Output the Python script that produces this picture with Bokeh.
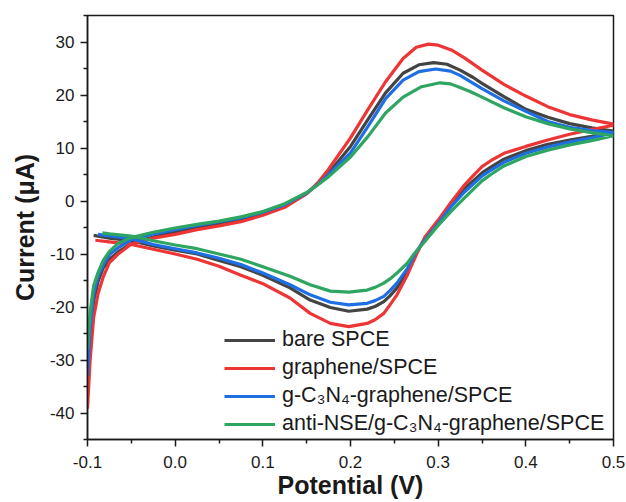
from bokeh.plotting import figure
from bokeh.models import Legend, LegendItem, FixedTicker, PrintfTickFormatter, Range1d
from bokeh.embed import file_html
from bokeh.resources import INLINE

# ---- data ----
bare_fwd_x = [-0.1, -0.097, -0.093, -0.088, -0.082, -0.075, -0.065, -0.05, -0.025, 0, 0.025, 0.05, 0.075, 0.1, 0.125, 0.15, 0.1625, 0.175, 0.2, 0.22, 0.24, 0.26, 0.278, 0.295, 0.31, 0.325, 0.34, 0.35, 0.375, 0.4, 0.425, 0.45, 0.475, 0.5]
bare_fwd_y = [-35, -26, -19, -15.2, -12.6, -11.0, -9.6, -8.0, -6.8, -5.8, -5.0, -4.3, -3.5, -2.4, -1.0, 1.4, 3.2, 5.3, 10.3, 15.4, 20.4, 24.1, 25.7, 26.1, 25.8, 24.7, 23.3, 22.2, 19.7, 17.3, 15.8, 14.6, 13.8, 13.2]
bare_rev_x = [0.5, 0.475, 0.45, 0.425, 0.4, 0.375, 0.36, 0.35, 0.34, 0.33, 0.315, 0.3, 0.285, 0.275, 0.265, 0.253, 0.245, 0.238, 0.228, 0.219, 0.198, 0.177, 0.154, 0.131, 0.1, 0.075, 0.05, 0.025, 0, -0.025, -0.05, -0.075, -0.093]
bare_rev_y = [13.0, 12.2, 11.5, 10.7, 9.5, 7.9, 6.4, 5.3, 3.8, 2.3, -0.6, -4.0, -7.0, -9.8, -13.3, -16.4, -17.9, -19.0, -19.9, -20.4, -20.8, -20.1, -18.7, -16.4, -14.0, -12.4, -11.2, -10.0, -9.3, -8.5, -7.5, -7.0, -6.5]

gr_fwd_x = [-0.1, -0.097, -0.093, -0.088, -0.082, -0.075, -0.065, -0.05, -0.025, 0, 0.025, 0.05, 0.075, 0.1, 0.125, 0.15, 0.1625, 0.175, 0.2, 0.22, 0.24, 0.26, 0.275, 0.289, 0.3, 0.315, 0.33, 0.35, 0.375, 0.4, 0.425, 0.45, 0.475, 0.5]
gr_fwd_y = [-39.2, -30, -22, -17.5, -14.3, -11.6, -10.0, -8.1, -7.0, -6.3, -5.4, -4.7, -3.9, -2.7, -1.2, 1.4, 3.4, 6.0, 11.9, 17.3, 22.5, 26.9, 29.0, 29.6, 29.4, 28.5, 27.0, 24.7, 22.0, 19.8, 17.8, 16.3, 15.3, 14.5]
gr_rev_x = [0.5, 0.475, 0.45, 0.425, 0.4, 0.375, 0.36, 0.35, 0.34, 0.33, 0.315, 0.3, 0.285, 0.276, 0.265, 0.253, 0.245, 0.238, 0.228, 0.219, 0.198, 0.177, 0.154, 0.131, 0.1, 0.075, 0.05, 0.025, 0, -0.025, -0.05, -0.075, -0.091]
gr_rev_y = [14.3, 13.5, 12.6, 11.5, 10.3, 9.0, 7.6, 6.5, 4.8, 3.0, -0.2, -3.6, -6.8, -9.8, -13.9, -17.7, -19.6, -21.2, -22.4, -23.1, -23.7, -23.1, -21.2, -18.3, -15.6, -14.0, -12.3, -11.0, -10.0, -9.1, -8.2, -7.7, -7.4]

cn_fwd_x = [-0.1, -0.097, -0.093, -0.088, -0.082, -0.075, -0.065, -0.05, -0.025, 0, 0.025, 0.05, 0.075, 0.1, 0.125, 0.15, 0.1625, 0.175, 0.2, 0.22, 0.24, 0.26, 0.278, 0.297, 0.314, 0.325, 0.34, 0.35, 0.375, 0.4, 0.425, 0.45, 0.475, 0.5]
cn_fwd_y = [-33, -24, -17.5, -14.2, -12.0, -10.1, -8.8, -7.3, -6.2, -5.4, -4.6, -3.9, -3.2, -2.1, -0.7, 1.5, 3.1, 5.0, 9.1, 14.1, 19.3, 22.8, 24.4, 24.9, 24.5, 23.7, 22.2, 21.2, 18.9, 16.9, 15.0, 13.9, 13.3, 12.9]
cn_rev_x = [0.5, 0.475, 0.45, 0.425, 0.4, 0.375, 0.36, 0.35, 0.34, 0.33, 0.315, 0.3, 0.285, 0.274, 0.265, 0.253, 0.245, 0.238, 0.228, 0.219, 0.198, 0.177, 0.154, 0.131, 0.1, 0.075, 0.05, 0.025, 0, -0.025, -0.05, -0.075, -0.088]
cn_rev_y = [12.9, 11.9, 11.1, 10.2, 9.0, 7.3, 5.8, 4.7, 3.2, 1.7, -1.0, -4.3, -7.3, -9.8, -12.7, -15.5, -16.9, -18.0, -18.8, -19.3, -19.6, -19.1, -17.7, -15.8, -13.6, -12.0, -10.8, -9.8, -9.0, -8.2, -7.1, -6.6, -6.3]

nse_fwd_x = [-0.1, -0.097, -0.093, -0.088, -0.082, -0.075, -0.065, -0.05, -0.025, 0, 0.025, 0.05, 0.075, 0.1, 0.125, 0.15, 0.1625, 0.175, 0.2, 0.22, 0.24, 0.26, 0.28, 0.302, 0.314, 0.325, 0.337, 0.35, 0.375, 0.4, 0.425, 0.45, 0.475, 0.5]
nse_fwd_y = [-28, -21, -16, -13.5, -11.2, -9.5, -8.0, -6.9, -5.9, -5.1, -4.4, -3.8, -3.0, -2.0, -0.5, 1.6, 3.0, 4.6, 8.3, 12.2, 16.6, 19.6, 21.5, 22.3, 22.1, 21.4, 20.6, 19.6, 17.6, 15.9, 14.6, 13.6, 12.9, 12.3]
nse_rev_x = [0.5, 0.475, 0.45, 0.425, 0.4, 0.375, 0.36, 0.35, 0.34, 0.33, 0.315, 0.3, 0.285, 0.272, 0.265, 0.253, 0.245, 0.238, 0.228, 0.219, 0.198, 0.177, 0.154, 0.131, 0.1, 0.075, 0.05, 0.025, 0, -0.025, -0.05, -0.075, -0.083]
nse_rev_y = [12.3, 11.4, 10.6, 9.6, 8.4, 6.6, 5.0, 3.8, 2.2, 0.6, -1.9, -4.6, -7.6, -10.1, -11.7, -13.6, -14.7, -15.5, -16.3, -16.8, -17.2, -17.0, -15.8, -14.2, -12.4, -11.0, -10.0, -9.0, -8.3, -7.5, -6.6, -6.2, -6.0]

labels = ["bare SPCE", "graphene/SPCE", "g-C\u2083N\u2084-graphene/SPCE", "anti-NSE/g-C\u2083N\u2084-graphene/SPCE"]
colors = ["#444444", "#EE3535", "#1E6FE3", "#2EA560"]

x_ticks = [-0.1, 0.0, 0.1, 0.2, 0.3, 0.4, 0.5]
x_minor = [-0.05, 0.05, 0.15, 0.25, 0.35, 0.45]
y_ticks = [-40, -30, -20, -10, 0, 10, 20, 30]
y_minor = [-45, -35, -25, -15, -5, 5, 15, 25, 35]

series = [
    (bare_fwd_x + bare_rev_x, bare_fwd_y + bare_rev_y),
    (gr_fwd_x + gr_rev_x, gr_fwd_y + gr_rev_y),
    (cn_fwd_x + cn_rev_x, cn_fwd_y + cn_rev_y),
    (nse_fwd_x + nse_rev_x, nse_fwd_y + nse_rev_y),
]

FONT = "Liberation Sans"
INK = "#1a1a1a"

p = figure(width=626, height=502, output_backend="svg", toolbar_location=None,
           x_range=Range1d(-0.1, 0.5), y_range=Range1d(-45, 35),
           min_border_left=87, min_border_top=15, min_border_right=13, min_border_bottom=63)

items = []
for (xs, ys), c, lab in zip(series, colors, labels):
    r = p.line(xs, ys, line_color=c, line_width=3.2, line_join="round")
    items.append(LegendItem(label=lab, renderers=[r]))

p.xgrid.visible = False
p.ygrid.visible = False
p.outline_line_color = INK
p.outline_line_width = 1.5
p.background_fill_color = "white"
p.border_fill_color = "white"

p.xaxis.ticker = FixedTicker(ticks=x_ticks, minor_ticks=x_minor)
p.yaxis.ticker = FixedTicker(ticks=y_ticks, minor_ticks=y_minor)
p.xaxis.formatter = PrintfTickFormatter(format="%.1f")
p.yaxis.formatter = PrintfTickFormatter(format="%d")

for ax in (p.xaxis[0], p.yaxis[0]):
    ax.axis_line_color = INK
    ax.axis_line_width = 1.5
    ax.major_tick_line_color = INK
    ax.major_tick_line_width = 1.5
    ax.minor_tick_line_color = INK
    ax.minor_tick_line_width = 1.5
    ax.major_tick_in = 0
    ax.major_tick_out = 7
    ax.minor_tick_in = 0
    ax.minor_tick_out = 4
    ax.major_label_text_font = FONT
    ax.major_label_text_font_size = "17px"
    ax.major_label_text_color = INK
    ax.axis_label_text_font = FONT
    ax.axis_label_text_font_size = "25px"
    ax.axis_label_text_font_style = "bold"
    ax.axis_label_text_color = INK

p.xaxis.major_label_standoff = 9
p.yaxis.major_label_standoff = 6
p.xaxis.axis_label = "Potential (V)"
p.yaxis.axis_label = "Current (\u03bcA)"
p.xaxis.axis_label_standoff = 0
p.yaxis.axis_label_standoff = 8

legend = Legend(items=items, location=(137, 3), glyph_width=51, glyph_height=24,
                label_height=24, label_standoff=7, spacing=3, padding=0, margin=0,
                border_line_color=None, background_fill_alpha=0,
                label_text_font=FONT, label_text_font_size="21.5px", label_text_color=INK)
p.add_layout(legend)

open("out.html", "w").write(file_html(p, INLINE))
